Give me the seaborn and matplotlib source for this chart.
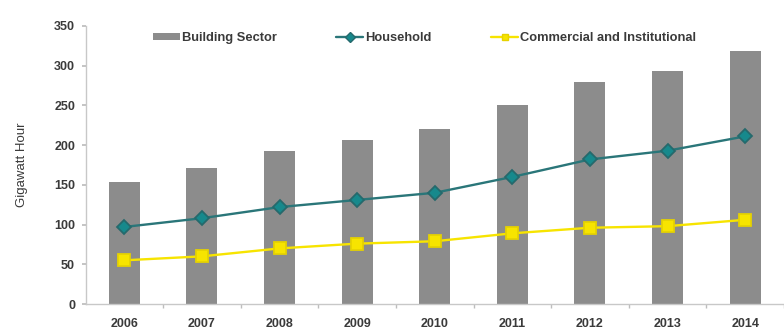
import matplotlib
matplotlib.use("Agg")
import matplotlib.pyplot as plt
from matplotlib.patches import Patch
from matplotlib.lines import Line2D
from matplotlib.ticker import FixedLocator
import seaborn as sns
import pandas as pd

years = ["2006", "2007", "2008", "2009", "2010", "2011", "2012", "2013", "2014"]
building_sector = [153, 171, 193, 206, 220, 250, 279, 293, 318]
household = [97, 108, 122, 131, 140, 160, 182, 193, 211]
commercial = [55, 60, 70, 76, 79, 89, 96, 98, 106]

df = pd.DataFrame({
    "Year": years,
    "Building Sector": building_sector,
    "Household": household,
    "Commercial and Institutional": commercial,
})

sns.set_theme(style="white")
plt.rcParams["font.family"] = ["Liberation Sans", "DejaVu Sans"]

bar_color = "#8c8c8c"
teal = "#17898c"
teal_line = "#2a7679"
teal_edge = "#25696c"
yellow = "#f7e400"
yellow_edge = "#e6d200"
text_color = "#3a3a3a"

fig = plt.figure(figsize=(7.84, 3.35), dpi=100)
ax = fig.add_axes([0.110, 0.0925, 0.89, 0.83])

sns.barplot(data=df, x="Year", y="Building Sector", color=bar_color,
            width=0.4, saturation=1, linewidth=0, ax=ax, zorder=2)
sns.pointplot(data=df, x="Year", y="Household", color=teal_line,
              markers="D", ax=ax, markersize=7, linewidth=1.7,
              markerfacecolor=teal, markeredgecolor=teal_edge)
sns.pointplot(data=df, x="Year", y="Commercial and Institutional", color=yellow,
              markers="s", ax=ax, markersize=8, linewidth=1.7,
              markerfacecolor=yellow, markeredgecolor=yellow_edge)

ax.set_ylim(0, 350)
ax.set_xlim(-0.49, 8.5)
ax.set_yticks(range(0, 351, 50))
ax.set_xlabel("")
ax.set_ylabel("Gigawatt Hour", fontsize=9.5, color=text_color, labelpad=19)

for lbl in ax.get_xticklabels() + ax.get_yticklabels():
    lbl.set_fontweight("bold")
    lbl.set_color(text_color)
    lbl.set_fontsize(9)

ax.xaxis.set_minor_locator(FixedLocator([i - 0.5 for i in range(10)]))
ax.tick_params(axis="x", which="major", length=0, pad=10)
ax.tick_params(axis="x", which="minor", length=3, color="#bdbdbd", bottom=True)
ax.tick_params(axis="y", which="major", length=3, color="#bdbdbd", left=True, pad=5)

for side in ["top", "right"]:
    ax.spines[side].set_visible(False)
for side in ["left", "bottom"]:
    ax.spines[side].set_color("#c8c8c8")
    ax.spines[side].set_linewidth(1)

handles = [
    Patch(facecolor=bar_color, edgecolor="none"),
    Line2D([], [], color=teal_line, lw=1.7, marker="D", markersize=5,
           markerfacecolor=teal, markeredgecolor=teal_edge),
    Line2D([], [], color=yellow, lw=1.7, marker="s", markersize=5,
           markerfacecolor=yellow, markeredgecolor=yellow_edge),
]
labels = ["Building Sector", "Household", "Commercial and Institutional"]
leg = ax.legend(handles, labels, loc="upper left", bbox_to_anchor=(0.079, 1.019),
                ncol=3, frameon=False, columnspacing=4.6, handlelength=2.1,
                handletextpad=0.15, handleheight=0.5,
                prop={"weight": "bold", "size": 9.3})
for t in leg.get_texts():
    t.set_color(text_color)

fig.savefig("out.png", dpi=100)
